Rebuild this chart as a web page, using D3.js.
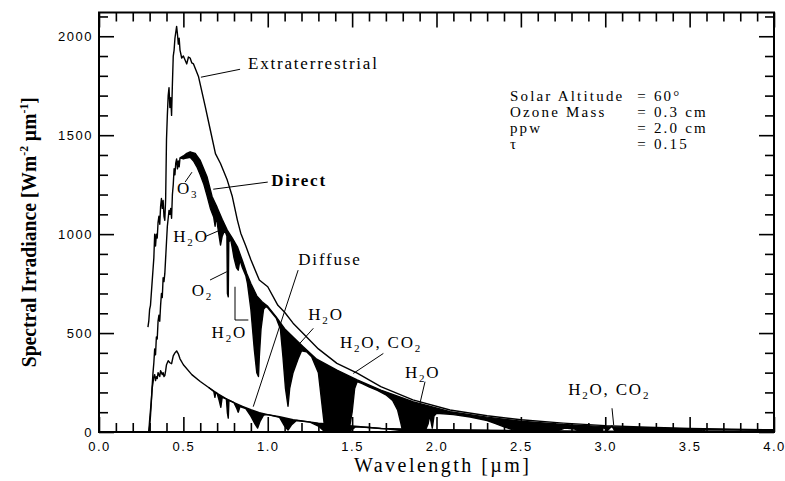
<!DOCTYPE html>
<html>
<head>
<meta charset="utf-8">
<script src="https://cdn.jsdelivr.net/npm/d3@7"></script>
<style>
  body { margin: 0; background: #fff; }
  svg { display: block; background: #fff; }
  .axis text { font-family: "Liberation Sans", Arial, sans-serif; font-size: 13px; letter-spacing: 1.5px; fill: #000; }
  .axis line { stroke: #000; stroke-width: 1.6px; }
  .note { font-family: "Liberation Serif", "Times New Roman", serif; font-size: 17px; letter-spacing: 1.8px; fill: #000; }
  .param { font-family: "Liberation Serif", "Times New Roman", serif; font-size: 15px; letter-spacing: 2.2px; fill: #000; }
</style>
</head>
<body>
<svg id="chart" width="785" height="481"></svg>
<script>
// spectra, [wavelength (um), irradiance (W m-2 um-1)]
var extraterrestrial = [
  [0.290, 530], [0.295, 560], [0.300, 620], [0.305, 640], [0.310, 700], [0.315, 760],
  [0.320, 820], [0.325, 880], [0.330, 1000], [0.335, 940], [0.340, 1000], [0.345, 980],
  [0.350, 1060], [0.355, 1090], [0.360, 1050], [0.365, 1140], [0.370, 1180], [0.375, 1130],
  [0.380, 1170], [0.385, 1090], [0.390, 1070], [0.395, 1180], [0.400, 1480], [0.405, 1600],
  [0.410, 1700], [0.415, 1740], [0.420, 1640], [0.425, 1690], [0.430, 1600], [0.435, 1760],
  [0.440, 1900], [0.445, 1930], [0.450, 1990], [0.455, 2020], [0.460, 2050], [0.465, 2010],
  [0.470, 1960], [0.475, 1990], [0.480, 1930], [0.490, 1890], [0.500, 1900], [0.510, 1880],
  [0.520, 1860], [0.530, 1895], [0.540, 1890], [0.550, 1865], [0.560, 1860], [0.590, 1795],
  [0.630, 1643], [0.660, 1525], [0.690, 1407], [0.720, 1357], [0.760, 1273], [0.790, 1190],
  [0.820, 1071], [0.840, 1005], [0.870, 940], [0.900, 870], [0.950, 768], [1.000, 734],
  [1.060, 640], [1.100, 605], [1.150, 550], [1.210, 498], [1.300, 420], [1.410, 347],
  [1.530, 297], [1.670, 229], [1.860, 162], [2.080, 111], [2.300, 82], [2.500, 62],
  [2.750, 45], [3.000, 32], [3.250, 24], [3.500, 18], [3.750, 14], [4.000, 11]
];

// direct beam with scattering only (top edge of the black absorption bands)
var directClear = [
  [0.480, 1385], [0.500, 1395], [0.520, 1408], [0.540, 1416], [0.570, 1408], [0.600, 1372],
  [0.640, 1290], [0.670, 1190], [0.700, 1135], [0.730, 1075], [0.760, 1020], [0.790, 980],
  [0.820, 936], [0.850, 865], [0.875, 802], [0.900, 750], [0.935, 688], [0.970, 655],
  [1.000, 635], [1.050, 582], [1.100, 522], [1.150, 480], [1.210, 431], [1.290, 368],
  [1.410, 313], [1.530, 263], [1.670, 212], [1.860, 153], [2.080, 103], [2.300, 75],
  [2.500, 55], [2.750, 38], [3.000, 27], [3.250, 20], [3.500, 15], [3.750, 12], [4.000, 9]
];

var direct = [
  [0.295, 0], [0.300, 30], [0.305, 80], [0.310, 150], [0.315, 230], [0.320, 300], [0.325, 350],
  [0.330, 420], [0.335, 390], [0.340, 480], [0.345, 470], [0.350, 560], [0.355, 590], [0.360, 560],
  [0.365, 640], [0.370, 700], [0.375, 680], [0.380, 780], [0.385, 760], [0.390, 800], [0.395, 880],
  [0.400, 960], [0.405, 1040], [0.410, 1080], [0.415, 1120], [0.420, 1100], [0.425, 1130], [0.430, 1080],
  [0.435, 1200], [0.440, 1250], [0.445, 1330], [0.450, 1300], [0.455, 1360], [0.460, 1380], [0.465, 1330],
  [0.470, 1370], [0.475, 1340], [0.480, 1385], [0.500, 1380], [0.520, 1385], [0.540, 1388], [0.560, 1370],
  [0.580, 1340], [0.600, 1300], [0.620, 1255], [0.640, 1195], [0.660, 1130], [0.680, 1085], [0.688, 1040],
  [0.692, 1080], [0.700, 1060], [0.710, 1000], [0.720, 945], [0.730, 990], [0.745, 1020], [0.758, 990],
  [0.761, 700], [0.766, 683], [0.769, 960], [0.780, 975], [0.790, 930], [0.800, 880], [0.815, 830],
  [0.825, 818], [0.835, 870], [0.850, 830], [0.870, 790], [0.880, 750], [0.900, 620], [0.920, 420],
  [0.935, 300], [0.945, 280], [0.950, 380], [0.960, 520], [0.975, 620], [0.990, 635], [1.000, 628],
  [1.050, 576], [1.075, 520], [1.090, 380], [1.105, 220], [1.120, 130], [1.130, 220], [1.150, 300],
  [1.180, 370], [1.200, 410], [1.230, 405], [1.260, 380], [1.280, 340], [1.300, 300], [1.320, 150],
  [1.340, 0], [1.480, 0], [1.500, 100], [1.515, 220], [1.530, 255], [1.560, 245], [1.600, 228],
  [1.650, 210], [1.700, 188], [1.740, 160], [1.770, 110], [1.790, 40], [1.800, 0], [1.930, 0],
  [1.950, 40], [1.960, 85], [1.975, 20], [1.985, 80], [2.000, 95], [2.100, 88], [2.200, 76],
  [2.300, 58], [2.350, 42], [2.400, 26], [2.450, 12], [2.520, 0], [2.700, 0], [2.760, 20],
  [2.820, 15], [2.850, 0], [2.980, 0], [2.990, 25], [3.010, 5], [3.040, 30], [3.060, 0],
  [3.550, 0], [3.600, 11], [4.000, 8]
];

// diffuse without gaseous absorption (top edge of the diffuse bands)
var diffuseClear = [
  [0.650, 225], [0.700, 195], [0.750, 170], [0.800, 148], [0.850, 130], [0.900, 113], [0.950, 98],
  [1.000, 88], [1.070, 77], [1.150, 62], [1.300, 45], [1.500, 30], [1.670, 18], [2.000, 12],
  [2.500, 7], [3.000, 4], [3.500, 2], [4.000, 1]
];

var diffuse = [
  [0.295, 0], [0.300, 60], [0.305, 110], [0.310, 160], [0.315, 220], [0.320, 250], [0.325, 280],
  [0.330, 290], [0.335, 260], [0.340, 280], [0.345, 270], [0.350, 300], [0.355, 290], [0.360, 280],
  [0.365, 310], [0.370, 300], [0.375, 290], [0.380, 300], [0.385, 280], [0.390, 285], [0.395, 310],
  [0.400, 340], [0.410, 360], [0.420, 350], [0.430, 345], [0.440, 385], [0.450, 400], [0.460, 410],
  [0.470, 395], [0.480, 370], [0.500, 340], [0.550, 290], [0.600, 255], [0.650, 225], [0.680, 205],
  [0.687, 175], [0.692, 200], [0.700, 195], [0.712, 160], [0.722, 125], [0.730, 176], [0.755, 166],
  [0.761, 95], [0.766, 70], [0.770, 160], [0.800, 148], [0.815, 122], [0.825, 100], [0.835, 128],
  [0.870, 118], [0.900, 80], [0.925, 40], [0.940, 20], [0.955, 55], [0.975, 85], [1.000, 88],
  [1.070, 74], [1.100, 30], [1.120, 10], [1.140, 35], [1.170, 58], [1.250, 50], [1.300, 30],
  [1.340, 0], [1.480, 0], [1.520, 26], [1.600, 23], [1.700, 16], [1.780, 8], [1.800, 0],
  [1.950, 0], [2.000, 10], [2.300, 8], [2.450, 0], [3.550, 0], [3.600, 2], [4.000, 1]
];

var xMajor = [0, 0.5, 1, 1.5, 2, 2.5, 3, 3.5, 4];
var yMajor = [0, 500, 1000, 1500, 2000];

// labels: text, baseline-left anchor and leader polyline, all in data units
var notes = [
  {text: "Extraterrestrial", at: [0.883, 1833], leader: [[0.836, 1833], [0.604, 1793]]},
  {text: "Direct", bold: true, at: [1.02, 1242], leader: [[1.0, 1263], [0.677, 1227]]},
  {text: "O3", at: [0.462, 1202], leader: [[0.51, 1263], [0.551, 1313]]},
  {text: "H2O", at: [0.44, 962], leader: [[0.628, 987], [0.717, 1020]]},
  {text: "O2", at: [0.549, 687], leader: [[0.658, 768], [0.757, 810]]},
  {text: "H2O", at: [0.667, 475], leader: [[0.806, 734], [0.806, 566], [0.885, 566]]},
  {text: "Diffuse", at: [1.181, 843], leader: [[1.18, 818], [0.914, 128]]},
  {text: "H2O", at: [1.24, 566], leader: [[1.27, 524], [1.19, 448]]},
  {text: "H2O, CO2", at: [1.428, 424], leader: [[1.685, 397], [1.507, 296]]},
  {text: "H2O", at: [1.813, 273], leader: [[1.932, 254], [1.902, 145]]},
  {text: "H2O, CO2", at: [2.78, 187], leader: [[3.04, 120], [3.05, 35]]}
];

var paramNames = ["Solar Altitude", "Ozone Mass", "ppw", "\u03c4"];
var paramValues = ["= 60\u00b0", "= 0.3 cm", "= 2.0 cm", "= 0.15"];

var svg = d3.select("#chart");

var x = d3.scaleLinear().domain([0, 4]).range([99, 774]);
var y = d3.scaleLinear().domain([0, 2120]).range([432, 12.5]);

svg.append("clipPath").attr("id", "plot-clip")
  .append("rect")
  .attr("x", x(0)).attr("y", y(2120))
  .attr("width", x(4) - x(0)).attr("height", y(0) - y(2120));

var plot = svg.append("g").attr("clip-path", "url(#plot-clip)");

var area = d3.area()
  .x(function(d) { return x(d[0]); })
  .y0(y(0))
  .y1(function(d) { return y(d[1]); });

var line = d3.line()
  .x(function(d) { return x(d[0]); })
  .y(function(d) { return y(d[1]); });

// absorption bands: paint the clear-sky curve black, then cover what gets through with white
[[directClear, "#000"], [direct, "#fff"], [diffuseClear, "#000"], [diffuse, "#fff"]].forEach(function(s) {
  plot.append("path").datum(s[0]).attr("d", area).attr("fill", s[1]).attr("stroke", "none");
});

[extraterrestrial, directClear, direct, diffuseClear, diffuse].forEach(function(s) {
  plot.append("path").datum(s)
    .attr("d", line)
    .attr("fill", "none")
    .attr("stroke", "#000")
    .attr("stroke-width", 1.4)
    .attr("stroke-linejoin", "round");
});

// ticks point inward on all four sides, minor every 0.1 um / 100 W
var xMinor = d3.range(0.1, 4, 0.1).filter(function(v) { return Math.abs(v * 2 - Math.round(v * 2)) > 1e-6; });
var yMinor = d3.range(100, 2101, 100).filter(function(v) { return v % 500 !== 0; });

function ticks(axis, pos, major, minor, fmt, pad) {
  var g = svg.append("g").attr("class", "axis").attr("transform", pos);
  g.append("g").call(axis().tickValues(minor).tickSize(-9).tickFormat(""));
  g.append("g").call(axis().tickValues(major).tickSize(-15).tickPadding(pad || 3).tickFormat(fmt || ""));
  g.selectAll(".domain").remove();
  return g;
}

ticks(function() { return d3.axisBottom(x); }, "translate(0," + y(0) + ")", xMajor, xMinor, d3.format(".1f"), 10);
ticks(function() { return d3.axisTop(x); }, "translate(0," + y(2120) + ")", xMajor, xMinor);
ticks(function() { return d3.axisLeft(y); }, "translate(" + x(0) + ",0)", yMajor, yMinor, d3.format("d"), 6);
ticks(function() { return d3.axisRight(y); }, "translate(" + x(4) + ",0)", yMajor, yMinor);

svg.append("rect")
  .attr("x", x(0)).attr("y", y(2120))
  .attr("width", x(4) - x(0)).attr("height", y(0) - y(2120))
  .attr("fill", "none").attr("stroke", "#000").attr("stroke-width", 2);

// text with chemical subscripts (H2O -> H₂O)
function chem(sel, str) {
  var low = false;
  str.split(/(\d)/).forEach(function(part) {
    if (part === "") return;
    var t = sel.append("tspan").text(part);
    if (/^\d$/.test(part)) {
      t.attr("font-size", "11px").attr("dy", low ? 0 : 4);
      low = true;
    } else {
      if (low) t.attr("dy", -4);
      low = false;
    }
  });
}

notes.forEach(function(n) {
  svg.append("path")
    .datum(n.leader)
    .attr("d", line)
    .attr("fill", "none")
    .attr("stroke", "#000")
    .attr("stroke-width", 1);
  var t = svg.append("text")
    .attr("class", "note")
    .attr("x", x(n.at[0]))
    .attr("y", y(n.at[1]))
    .attr("font-weight", n.bold ? "bold" : null);
  chem(t, n.text);
});

// run parameters block
var params = svg.append("g").attr("class", "param");
paramNames.forEach(function(name, i) {
  var base = 101 + i * 16;
  params.append("text")
    .attr("x", x(2.435))
    .attr("y", base)
    .text(name);
  params.append("text")
    .attr("x", x(3.19))
    .attr("y", base)
    .text(paramValues[i]);
});

svg.append("text")
  .attr("x", (x(0) + x(4)) / 2 + 5)
  .attr("y", 472)
  .attr("text-anchor", "middle")
  .attr("font-family", "Liberation Serif, serif")
  .attr("font-size", 20)
  .attr("textLength", 175)
  .attr("lengthAdjust", "spacing")
  .text("Wavelength [\u00b5m]");

var yTitle = svg.append("text")
  .attr("transform", "translate(36," + ((y(0) + y(2120)) / 2 + 10) + ") rotate(-90)")
  .attr("text-anchor", "middle")
  .attr("font-family", "Liberation Serif, serif")
  .attr("font-weight", "bold")
  .attr("font-size", 22)
  .attr("textLength", 270)
  .attr("lengthAdjust", "spacingAndGlyphs");
yTitle.append("tspan").text("Spectral Irradiance [Wm");
yTitle.append("tspan").attr("dy", -8).attr("font-size", 13).text("-2");
yTitle.append("tspan").attr("dy", 8).text(" \u00b5m");
yTitle.append("tspan").attr("dy", -8).attr("font-size", 13).text("-1");
yTitle.append("tspan").attr("dy", 8).text("]");
</script>
</body>
</html>
